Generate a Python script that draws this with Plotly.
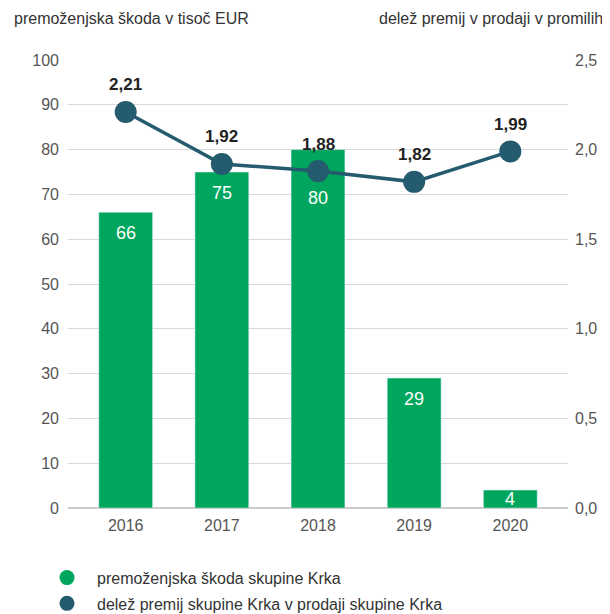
import plotly.graph_objects as go

years = ["2016", "2017", "2018", "2019", "2020"]
skoda = [66, 75, 80, 29, 4]
delez = [2.21, 1.92, 1.88, 1.82, 1.99]
left_ticks = [0, 10, 20, 30, 40, 50, 60, 70, 80, 90, 100]
right_ticks = [0.0, 0.5, 1.0, 1.5, 2.0, 2.5]

GREEN = "#00A65D"
TEAL = "#255B6F"
FONT = "Liberation Sans, Arial, sans-serif"
GRAY = "#555555"

PLOT_H = 448  # plot area height in px
Y_MAX = 100
Y2_MAX = 2.5

fig = go.Figure()

fig.add_trace(go.Bar(
    x=years, y=skoda, marker_color=GREEN, width=0.56,
    showlegend=False, hoverinfo="skip",
))

fig.add_trace(go.Scatter(
    x=years, y=delez, yaxis="y2", mode="lines+markers",
    line=dict(color=TEAL, width=3.5),
    marker=dict(color=TEAL, size=22),
    showlegend=False, hoverinfo="skip", cliponaxis=False,
))

# legend entries
fig.add_trace(go.Scatter(x=[None], y=[None], mode="markers",
                         marker=dict(color=GREEN, size=15), legendgroup="a",
                         name="premoženjska škoda skupine Krka"))
fig.add_trace(go.Scatter(x=[None], y=[None], mode="markers",
                         marker=dict(color=TEAL, size=15), legendgroup="b",
                         name="delež premij skupine Krka v prodaji skupine Krka"))

annotations = [
    dict(text="premoženjska škoda v tisoč EUR", xref="paper", yref="paper",
         x=-0.112, y=1.0, yshift=42, xanchor="left", yanchor="middle",
         showarrow=False, font=dict(size=16, color="#333333")),
    dict(text="delež premij v prodaji v promilih", xref="paper", yref="paper",
         x=1.0, xshift=37, y=1.0, yshift=42, xanchor="right", yanchor="middle",
         showarrow=False, font=dict(size=16, color="#333333")),
]
for i, (v, d) in enumerate(zip(skoda, delez)):
    top_px = v / Y_MAX * PLOT_H
    half_px = top_px / 2
    shift = min(21, half_px)
    label_px = top_px - shift
    marker_px = d / Y2_MAX * PLOT_H
    if abs(label_px - marker_px) < 22:
        shift = top_px - (marker_px - 27)
    annotations.append(dict(
        text=str(v), x=i, y=v, xref="x", yref="y",
        yshift=-shift, yanchor="middle", showarrow=False,
        font=dict(size=18, color="white"),
    ))
for i, v in enumerate(delez):
    annotations.append(dict(
        text=f"{v:.2f}".replace(".", ","), x=i, y=v, xref="x", yref="y2",
        yshift=27, yanchor="middle", showarrow=False,
        font=dict(size=17, color="#222222", weight="bold"),
    ))

fig.update_layout(
    width=602, height=606,
    margin=dict(l=60, r=42, t=52, b=106),
    paper_bgcolor="white", plot_bgcolor="white",
    separators=",.",
    font=dict(family=FONT, size=16, color=GRAY),
    xaxis=dict(type="category", range=[-0.6, 4.6], showgrid=False,
               ticks="", tickfont=dict(size=16, color=GRAY), showline=False,
               zeroline=False, ticklabelstandoff=6),
    yaxis=dict(range=[0, Y_MAX], tickvals=left_ticks, showgrid=True,
               gridcolor="#d9d9d9", gridwidth=1, zeroline=True,
               zerolinecolor="#cccccc", ticks="", tickfont=dict(size=16, color=GRAY),
               ticklabelstandoff=8),
    yaxis2=dict(range=[0, Y2_MAX], tickvals=right_ticks, tickformat=".1f",
                overlaying="y", side="right", showgrid=False, zeroline=False,
                ticks="", tickfont=dict(size=16, color=GRAY), ticklabelstandoff=6),
    legend=dict(orientation="v", x=-0.062, y=0.088, xref="paper", yref="container",
                xanchor="left", yanchor="top",
                font=dict(size=16, color="#333333"), itemwidth=50,
                tracegroupgap=2),
    showlegend=True,
    annotations=annotations,
)

fig.write_html("out.html")
